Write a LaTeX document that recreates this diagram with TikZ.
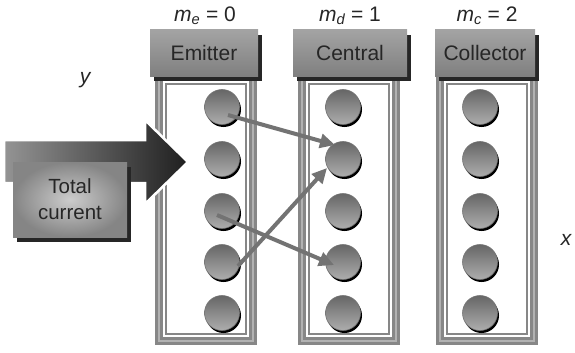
\documentclass[tikz,border=0pt]{standalone}
\usepackage{fontspec}
\setmainfont{Liberation Sans}
\usetikzlibrary{arrows.meta,shadows,calc}
\tikzset{
  hdr/.style={top color=black!36, bottom color=black!50, minimum height=46pt, inner sep=0pt,
    drop shadow={shadow xshift=4pt, shadow yshift=-5pt, fill=black!85, opacity=1},
    font=\fontsize{21}{25}\selectfont, text=black!85},
  ball/.style={circle, minimum size=35pt, inner sep=0pt, top color=black!60, bottom color=black!32,
    draw=black!55, line width=0.6pt,
    drop shadow={shadow xshift=1.5pt, shadow yshift=-2.5pt, fill=black, opacity=1}},
  flow/.style={draw=black!55, line width=4pt, -{Triangle[length=15pt,width=14pt]}},
  lbl/.style={font=\fontsize{21}{25}\selectfont, text=black!85},
  tot/.style={minimum width=114pt, minimum height=75pt, inner sep=0pt, align=center,
    inner color=black!20, outer color=black!48,
    drop shadow={shadow xshift=4pt, shadow yshift=-5pt, fill=black!85, opacity=1},
    font=\fontsize{20.5}{26}\selectfont, text=black!85}
}
\begin{document}
\begin{tikzpicture}[x=1pt,y=-1pt]
\useasboundingbox (0,0) rectangle (575,353);
% columns
\foreach \l [evaluate=\l as \r using \l+102] in {155,298,436}{
  \fill[black!47] (\l,76) rectangle (\r,345);
  \draw[black!30, line width=1.5pt] (\l+4,76) -- (\l+4,341) -- (\r-4,341) -- (\r-4,76);
  \fill[white] (\l+8,76) rectangle (\r-8,337);
  \draw[black!47, line width=2pt] (\l+11,84) rectangle (\r-11,334);
}
% balls
\foreach \i/\y in {1/107,2/159,3/211,4/262,5/313}{
  \node[ball] (E\i) at (222,\y) {};
  \node[ball] (D\i) at (343,\y) {};
  \node[ball] (C\i) at (480,\y) {};
}
% headers
\node[hdr, minimum width=108pt] (he) at (204,53) {Emitter};
\node[hdr, minimum width=114pt] (hd) at (350,53) {Central};
\node[hdr, minimum width=100pt] (hc) at (485,53) {Collector};
\node[lbl] (me) at (205,16) {{\itshape m\textsubscript{e}} = 0};
\node[lbl] (md) at (350,16) {{\itshape m\textsubscript{d}} = 1};
\node[lbl] (mc) at (487,16) {{\itshape m\textsubscript{c}} = 2};
\node[lbl] (ylab) at (85,80) {\itshape y};
\node[lbl] (xlab) at (566,240) {\itshape x};
% big arrow
\path[left color=black!42, right color=black!88, draw=white, line width=2.5pt, line join=miter]
  (4,140) -- (145,140) -- (145,120) -- (188,162) -- (145,204) -- (145,183) -- (4,183) -- cycle;
\node[tot] (tc) at (70,199.5) {Total\\current};
% transfer arrows
\draw[flow] ($(E1.center)+(6,8)$) -- ($(D2.center)+(-8,-14)$);
\draw[flow] ($(E4.center)+(16,4)$) -- ($(D2.center)+(-16,9)$);
\draw[flow] ($(E3.center)+(-5,4)$) -- ($(D4.center)+(-9,3)$);
\end{tikzpicture}
\end{document}
